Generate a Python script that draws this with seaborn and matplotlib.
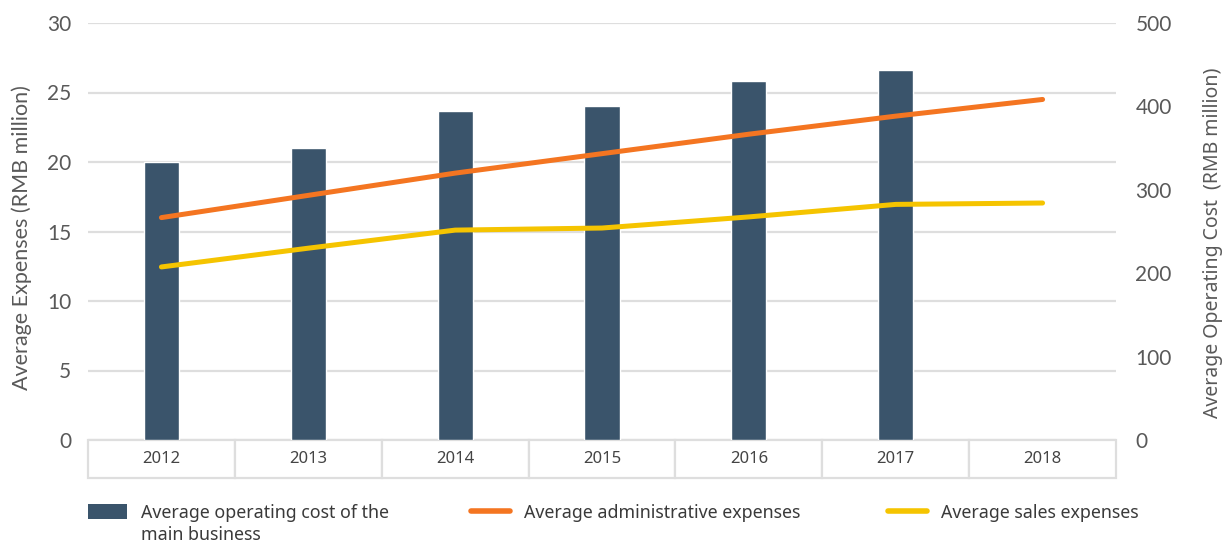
import numpy as np
import pandas as pd
import matplotlib
matplotlib.use("Agg")
import matplotlib.pyplot as plt
from matplotlib.patches import Patch
from matplotlib.lines import Line2D
import seaborn as sns

# Data
years = ["2012", "2013", "2014", "2015", "2016", "2017", "2018"]
operating_cost = [333, 350, 394.5, 400.5, 430.5, 443.5, np.nan]   # RMB million, right axis
admin_expenses = [16.0, 17.6, 19.2, 20.6, 22.0, 23.3, 24.5]        # RMB million, left axis
sales_expenses = [12.45, 13.8, 15.1, 15.25, 16.05, 16.95, 17.05]   # RMB million, left axis
left_ticks = [0, 5, 10, 15, 20, 25, 30]
right_ticks = [0, 100, 200, 300, 400, 500]

BAR = "#3a546b"
ORANGE = "#f47521"
YELLOW = "#f5c400"
GRID = "#dedede"
TICK = "#595959"
NOTO = ["Noto Sans", "DejaVu Sans"]

sns.set_theme(style="white")
plt.rcParams["font.family"] = ["Lato", "DejaVu Sans"]

W, H = 1231, 544
fig = plt.figure(figsize=(W / 100, H / 100), dpi=100)
x0, x1, y_top, y_bot = 88, 1116, 23, 440
rect = [x0 / W, (H - y_bot) / H, (x1 - x0) / W, (y_bot - y_top) / H]

# Bottom layer: left scale with its gridlines
ax = fig.add_axes(rect)
# Middle layer: right scale carrying the bars
ax2 = ax.twinx()
# Top layer: lines on the left scale
ax3 = fig.add_axes(rect, sharex=ax, sharey=ax)

df = pd.DataFrame({"year": years, "cost": operating_cost,
                   "admin": admin_expenses, "sales": sales_expenses})
df["pos"] = np.arange(len(years))

ax.set_ylim(0, 30)
ax.set_yticks(left_ticks)
ax.grid(axis="y", color=GRID, linewidth=1.6)
ax.grid(axis="x", visible=False)

sns.barplot(data=df, x="year", y="cost", order=years, color=BAR, width=0.24,
            saturation=1, ax=ax2)
ax2.set_ylim(0, 500)
ax2.set_yticks(right_ticks)
ax2.grid(False)
ax2.patch.set_visible(False)

sns.lineplot(data=df, x="pos", y="admin", color=ORANGE, linewidth=3.6, ax=ax3,
             solid_capstyle="round")
sns.lineplot(data=df, x="pos", y="sales", color=YELLOW, linewidth=3.6, ax=ax3,
             solid_capstyle="round")
ax3.set_ylim(0, 30)
ax3.patch.set_visible(False)
ax3.axis("off")

for a in (ax, ax2, ax3):
    a.set_xlim(-0.5, len(years) - 0.5)

ax.set_zorder(1)
ax2.set_zorder(2)
ax3.set_zorder(3)

for a in (ax, ax2):
    for s in a.spines.values():
        s.set_visible(False)
    a.tick_params(axis="both", length=0, labelsize=15, labelcolor=TICK)
    a.set_xticks([])
    a.set_xlabel("")

ax.tick_params(axis="y", pad=12)
ax2.tick_params(axis="y", pad=14)

ax.set_ylabel("Average Expenses (RMB million)", fontsize=15.5, color=TICK)
ax2.set_ylabel("Average Operating Cost  (RMB million)", fontsize=14, color=TICK,
               rotation=90, fontfamily=NOTO)
ax.yaxis.set_label_coords(-(88 - 22) / (x1 - x0), 1 - (238 - y_top) / (y_bot - y_top))
ax2.yaxis.set_label_coords(1 + (1213 - x1) / (x1 - x0), 1 - (243 - y_top) / (y_bot - y_top))
ax.yaxis.label.set_verticalalignment("center")
ax2.yaxis.label.set_verticalalignment("center")

# Category axis drawn as a row of boxed cells
h_tab = 38 / (y_bot - y_top)
tab = ax.table(cellText=[years], cellLoc="center", bbox=[0, -h_tab, 1, h_tab])
tab.auto_set_font_size(False)
for cell in tab.get_celld().values():
    cell.set_edgecolor(GRID)
    cell.set_linewidth(1.6)
    cell.get_text().set_fontsize(12)
    cell.get_text().set_color("#444444")
    cell.get_text().set_fontfamily(NOTO)

# Legend: three entries placed along the bottom
leg_kw = dict(frameon=False, handlelength=2.2, handleheight=0.9,
              handletextpad=0.8, borderpad=0, borderaxespad=0,
              prop={"family": NOTO, "size": 12.8})
entries = [
    (Patch(facecolor=BAR, edgecolor="none"), "Average operating cost of the", 88),
    (Line2D([], [], color=ORANGE, linewidth=4, solid_capstyle="round"), "Average administrative expenses", 471),
    (Line2D([], [], color=YELLOW, linewidth=4, solid_capstyle="round"), "Average sales expenses", 888),
]
for handle, label, xpix in entries:
    lg = fig.legend([handle], [label], loc="center left",
                    bbox_to_anchor=(xpix / W, (H - 513) / H), **leg_kw)
    for t in lg.get_texts():
        t.set_color("#3a3a3a")
fig.text(141 / W, (H - 535) / H, "main business", fontsize=12.8, color="#3a3a3a",
         fontfamily=NOTO, ha="left", va="center")

fig.savefig("out.png", dpi=100, facecolor="white")
